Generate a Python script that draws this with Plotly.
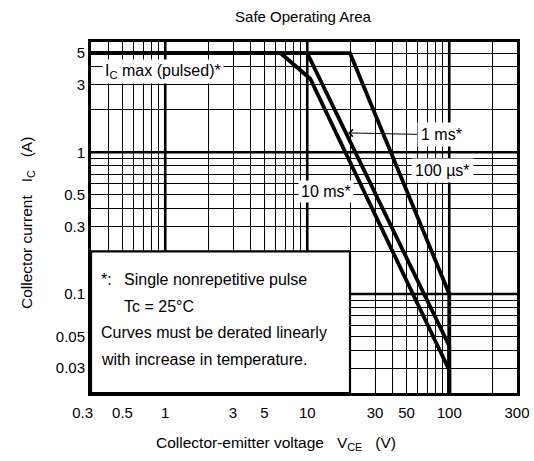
import math
import plotly.graph_objects as go

# ---------------- data ----------------
title_text = "Safe Operating Area"

# curves (V_CE in V, I_C in A)
v_100us = [0.3, 20, 100, 100]
i_100us = [5, 5, 0.1, 0.02]

v_1ms = [0.3, 10, 100, 100]
i_1ms = [5, 5, 0.043, 0.02]

v_10ms = [0.3, 6.5, 10.5, 100, 100]
i_10ms = [5, 5, 3.3, 0.029, 0.02]

# labelled ticks
x_tickvals = [0.3, 0.5, 1, 3, 5, 10, 30, 50, 100, 300]
x_ticktext = ["0.3\u00a0\u00a0\u00a0\u00a0", "0.5", "1", "3", "5", "10",
              "30", "50", "100", "300"]
y_tickvals = [0.03, 0.05, 0.1, 0.3, 0.5, 1, 3, 5]
y_ticktext = ["0.03", "0.05", "0.1", "0.3", "0.5", "1", "3", "5"]

# unlabelled grid lines
x_minor = [0.4, 0.6, 0.7, 0.8, 0.9, 2, 4, 6, 7, 8, 9,
           20, 40, 60, 70, 80, 90, 200]
y_minor = [0.04, 0.06, 0.07, 0.08, 0.09, 0.2, 0.4, 0.6, 0.7, 0.8, 0.9,
           2, 4]

x_major = [1, 10, 100]
y_major = [0.1, 1]

x_range = [0.3, 300]
y_range = [0.02, 6]

# note box region (V, A)
box_v = [0.3, 20]
box_i = [0.02, 0.2]

FONT = "Arial, Liberation Sans, Helvetica, sans-serif"
BLACK = "#000000"

fig = go.Figure()

# thick decade grid lines
for xv in x_major:
    fig.add_trace(go.Scatter(x=[xv, xv], y=y_range, mode="lines",
                             line=dict(color=BLACK, width=2.6),
                             hoverinfo="skip", showlegend=False))
for yv in y_major:
    fig.add_trace(go.Scatter(x=x_range, y=[yv, yv], mode="lines",
                             line=dict(color=BLACK, width=2.6),
                             hoverinfo="skip", showlegend=False))

# white note box
fig.add_trace(go.Scatter(
    x=[box_v[0], box_v[1], box_v[1], box_v[0], box_v[0]],
    y=[box_i[0], box_i[0], box_i[1], box_i[1], box_i[0]],
    mode="lines", fill="toself", fillcolor="white",
    line=dict(color=BLACK, width=2.2),
    hoverinfo="skip", showlegend=False))

# SOA curves
for vx, iy in [(v_10ms, i_10ms), (v_1ms, i_1ms), (v_100us, i_100us)]:
    fig.add_trace(go.Scatter(x=vx, y=iy, mode="lines",
                             line=dict(color=BLACK, width=3.8),
                             hoverinfo="skip", showlegend=False))

grid_style = dict(showgrid=True, gridcolor=BLACK, gridwidth=1.4)
axis_common = dict(
    type="log", showline=True, linecolor=BLACK, linewidth=3, mirror=True,
    ticks="", zeroline=False, automargin=False, tickangle=0,
    **grid_style,
    tickfont=dict(family=FONT, size=15, color=BLACK),
)

fig.update_layout(
    width=534, height=461,
    margin=dict(l=91, r=17, t=42, b=68, autoexpand=False),
    paper_bgcolor="white", plot_bgcolor="white",
    font=dict(family=FONT, color=BLACK),
    title=dict(text=title_text, x=(303 - 91) / 426, xref="paper",
               xanchor="center",
               y=1 - 17 / 461, yref="container", yanchor="middle",
               font=dict(family=FONT, size=15, color=BLACK)),
    xaxis=dict(range=[math.log10(x_range[0]), math.log10(x_range[1])],
               tickvals=x_tickvals, ticktext=x_ticktext,
               ticklabelstandoff=4,
               minor=dict(tickvals=x_minor, ticks="", **grid_style),
               **axis_common),
    yaxis=dict(range=[math.log10(y_range[0]), math.log10(y_range[1])],
               tickvals=y_tickvals, ticktext=y_ticktext,
               minor=dict(tickvals=y_minor, ticks="", **grid_style),
               **axis_common),
    showlegend=False,
)

L = math.log10
ann_font = dict(family=FONT, size=16, color=BLACK)

# curve labels
fig.add_annotation(x=L(0.358), y=L(3.69), xref="x", yref="y",
                   text="I<sub>C</sub> max (pulsed)*", showarrow=False,
                   xanchor="left", yanchor="middle", bgcolor="white",
                   borderpad=2, font=ann_font)
fig.add_annotation(x=L(19.4), y=L(1.37), xref="x", yref="y",
                   text="1 ms*", showarrow=True, ax=93, ay=2,
                   arrowhead=4, arrowsize=1.4, arrowwidth=1, arrowcolor=BLACK,
                   bgcolor="white", borderpad=3, font=ann_font)
fig.add_annotation(x=L(89), y=L(0.741), xref="x", yref="y",
                   text="100 µs*", showarrow=False, bgcolor="white",
                   borderpad=3, font=ann_font)
fig.add_annotation(x=L(13.55), y=L(0.527), xref="x", yref="y",
                   text="10 ms*", showarrow=False, bgcolor="white",
                   borderpad=2, font=ann_font)

# note box text
note_font = dict(family=FONT, size=16, color=BLACK)
fig.add_annotation(x=L(0.3414), y=L(0.1265), xref="x", yref="y",
                   text="*:", showarrow=False, xanchor="left",
                   yanchor="middle", font=note_font)
fig.add_annotation(x=L(0.495), y=L(0.1265), xref="x", yref="y",
                   text="Single nonrepetitive pulse",
                   showarrow=False, xanchor="left", yanchor="middle",
                   font=note_font)
fig.add_annotation(x=L(0.495), y=L(0.0817), xref="x", yref="y",
                   text="Tc = 25°C",
                   showarrow=False, xanchor="left", yanchor="middle",
                   font=note_font)
fig.add_annotation(x=L(0.3414), y=L(0.0536), xref="x", yref="y",
                   text="Curves must be derated linearly",
                   showarrow=False, xanchor="left", yanchor="middle",
                   font=note_font)
fig.add_annotation(x=L(0.3414), y=L(0.0346), xref="x", yref="y",
                   text="with increase in temperature.",
                   showarrow=False, xanchor="left", yanchor="middle",
                   font=note_font)

# axis titles
fig.add_annotation(x=(276 - 91) / 426, y=-(443 - 393) / 351,
                   xref="paper", yref="paper",
                   text="Collector-emitter voltage\u00a0\u00a0\u00a0V<sub>CE</sub>\u00a0\u00a0\u00a0(V)",
                   showarrow=False, xanchor="center", yanchor="middle",
                   font=dict(family=FONT, size=15.5, color=BLACK))
fig.add_annotation(x=-(91 - 27) / 426, y=(393 - 223) / 351,
                   xref="paper", yref="paper",
                   text="Collector current\u00a0\u00a0\u00a0I<sub>C</sub>\u00a0\u00a0\u00a0(A)",
                   textangle=-90,
                   showarrow=False, xanchor="center", yanchor="middle",
                   font=dict(family=FONT, size=15.5, color=BLACK))

fig.write_html("out.html", config={"displayModeBar": False},
               post_script="document.body.style.margin='0px';")
